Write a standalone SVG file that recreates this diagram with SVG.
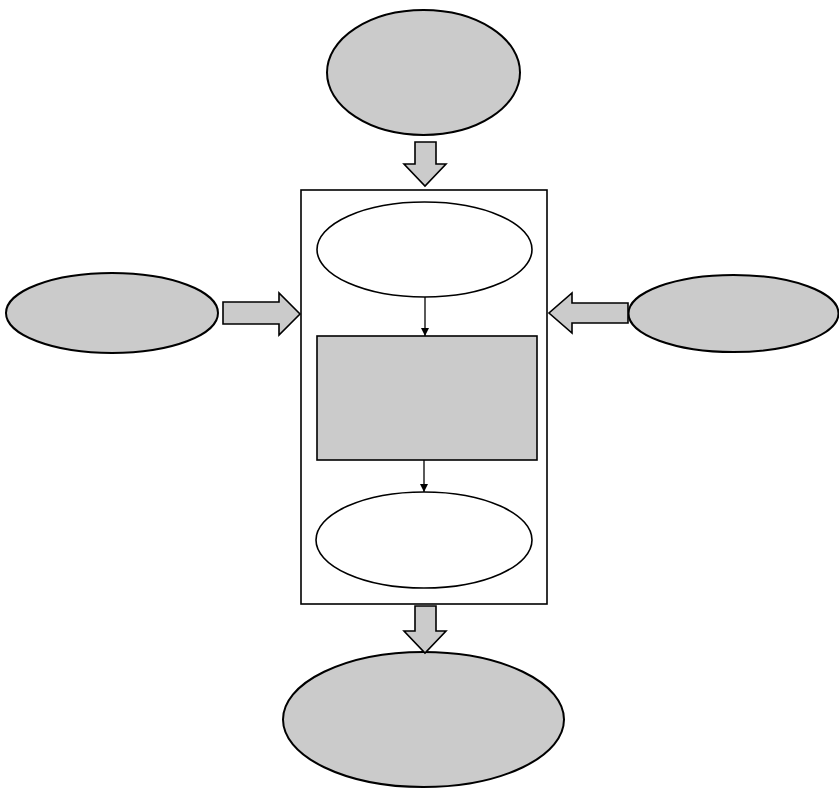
<svg xmlns="http://www.w3.org/2000/svg" width="839" height="790" viewBox="0 0 839 790">
<style>
.g{fill:#cbcbcb;stroke:#000;stroke-width:2}
.w{fill:#fff;stroke:#000;stroke-width:1.6}
.c{fill:none;stroke:#000;stroke-width:1.3}
.ba{fill:#cbcbcb;stroke:#000;stroke-width:1.6;stroke-linejoin:miter}
</style>
<defs>
<marker id="ah" viewBox="0 0 10 10" refX="10" refY="5" markerWidth="8" markerHeight="8" markerUnits="userSpaceOnUse" orient="auto">
<path d="M0,0 L10,5 L0,10 Z" fill="#000"/>
</marker>
</defs>
<rect width="839" height="790" fill="#fff"/>
<g id="container"><rect x="301" y="190" width="246" height="414" class="w"/></g>
<g id="top"><ellipse cx="423.5" cy="72.5" rx="96.5" ry="62.5" class="g"/></g>
<g id="left"><ellipse cx="112" cy="313" rx="106" ry="40" class="g"/></g>
<g id="right"><ellipse cx="733.5" cy="313.5" rx="105" ry="38.5" class="g"/></g>
<g id="inner-top"><ellipse cx="424.5" cy="249.5" rx="107.5" ry="47.5" class="w"/></g>
<g id="inner-mid"><rect x="317" y="336" width="220" height="124" class="g" style="stroke-width:1.6"/></g>
<g id="inner-bottom"><ellipse cx="424" cy="540" rx="108" ry="48" class="w"/></g>
<g id="bottom"><ellipse cx="423.5" cy="719.5" rx="140.5" ry="67.5" class="g"/></g>
<g id="connectors">
<path class="ba" d="M415,142 H436 V164 H446 L425,186 L404,164 H415 Z"/>
<path class="ba" d="M415,606 H436 V631 H446 L425,653 L404,631 H415 Z"/>
<path class="ba" d="M223,302 H279 V293 L300,314 L279,335 V324 H223 Z"/>
<path class="ba" d="M628,303 H572 V293 L549,313 L572,333 V323 H628 Z"/>
<line x1="425" y1="297" x2="425" y2="336" class="c" marker-end="url(#ah)"/>
<line x1="424" y1="460" x2="424" y2="492" class="c" marker-end="url(#ah)"/>
</g>
</svg>
